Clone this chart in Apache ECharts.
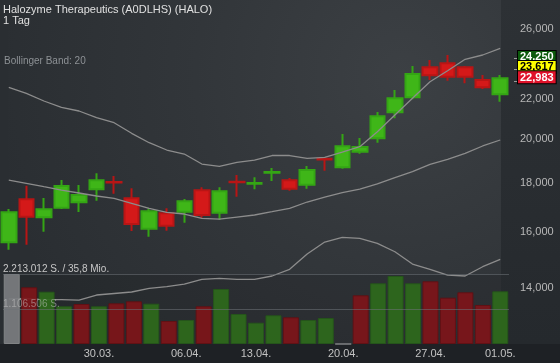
<!DOCTYPE html>
<html><head><meta charset="utf-8">
<script src="https://cdn.jsdelivr.net/npm/echarts@6/dist/echarts.min.js"></script>
<style>html,body{margin:0;padding:0;background:#262a2e}#c{width:560px;height:363px}</style>
</head><body><div id="c"></div>
<script>
const dates = ['23.03.','24.03.','25.03.','26.03.','27.03.','30.03.','31.03.','01.04.','02.04.','03.04.',
  '06.04.','07.04.','08.04.','09.04.','13.04.','14.04.','15.04.','16.04.','17.04.','20.04.',
  '21.04.','22.04.','23.04.','24.04.','27.04.','28.04.','29.04.','30.04.','01.05.'];
const tickDates = ['30.03.','06.04.','13.04.','20.04.','27.04.','01.05.'];

const open  = [15610,17303,16573,16960,17181,17724,18040,17345,16128,16733,16797,17681,16756,18050,17965,18445,18110,17919,19070,18681,19393,20025,21313,22092,23738,23966,23738,23028,22251];
const close = [16773,16596,16894,17864,17483,18110,18010,16310,16814,16242,17223,16666,17638,18020,17995,18475,17750,18561,19040,19645,19612,21110,22038,23361,23289,23210,23210,22628,23120];
const low   = [15335,15522,16011,16905,16785,17246,17537,16039,15820,16050,16360,16556,16478,17412,17724,18078,17664,17750,18531,18619,19301,19815,21008,21987,23028,22990,22846,22536,21861];
const high  = [16905,17876,17357,18122,17906,18416,18296,17766,16934,16934,17317,17807,17807,18340,18239,18651,18209,18741,19134,20233,20038,21328,22482,23813,24156,24448,23813,23305,23305];

const bbUpper  = [22628,22305,21898,21570,21379,21040,20788,20267,19816,19472,19286,18829,18727,18906,19011,19217,19217,19089,19134,19378,19627,20345,21174,22038,22932,23546,24196,24448,24843];
const bbMiddle = [18122,17980,17834,17693,17567,17441,17345,17139,16934,16773,16705,16533,16505,16585,16666,16797,16934,17192,17399,17587,17735,17951,18223,18486,18815,19042,19318,19661,19945];
const bbLower  = [13629,13645,13611,13611,13595,13759,13809,13859,13981,14035,14125,14287,14321,14287,14287,14400,14633,15179,15621,15798,15761,15571,15262,14818,14633,14433,14400,14724,14987];

const volume    = [2213012,1792540,1653500,1191900,1264600,1191900,1286700,1349900,1274100,727100,758700,1191900,1738800,948400,673400,907300,844100,758700,822000,0,1539600,1919000,2149800,1919000,1982100,1463700,1634400,1233000,1666100];
const volumeDir = [0,-1,1,1,-1,1,-1,-1,1,-1,1,-1,1,1,1,1,-1,1,1,0,-1,1,1,1,-1,-1,-1,-1,1];

const priceTicks = [14000,16000,18000,20000,22000,26000];
const quoteValues = [24250,23617,22983];
const quoteLabels = ['24,250','23,617','22,983'];
const volumeMax = 2213012;
const volumeTickLabels = ['', '1.106.506 S.', '2.213.012 S. / 35,8 Mio.'];
const priceMin = 12236, priceMax = 27890;

const L = v => Math.log10(v);
const FONT = '"Liberation Sans", Arial, sans-serif';
const fmtThousands = n => String(n).replace(/\B(?=(\d{3})+(?!\d))/g, ',');

const candleData = open.map((o, i) => [L(o), L(close[i]), L(low[i]), L(high[i])]);
const volFill = {'1': '#2e6a1b', '-1': '#7e1519', '0': '#7b7d80'};
const volEdge = {'1': '#25561a', '-1': '#631014', '0': '#86888a'};
const volData = volume.map((v, i) => ({
  value: v,
  itemStyle: {color: volFill[volumeDir[i]], borderColor: volEdge[volumeDir[i]]}
}));

const quoteStyles = [
  {backgroundColor: '#0c5a0c', color: '#ffffff'},
  {backgroundColor: '#ffff00', color: '#000000'},
  {backgroundColor: '#e0122a', color: '#ffffff'}
];
const quoteStackPad = [3, 5, 7];
const quoteAxes = quoteValues.map((q, i) => ({
  type: 'value', gridIndex: 0, position: 'right', offset: 5, min: L(priceMin), max: L(priceMax),
  axisLine: {show: false}, splitLine: {show: false},
  axisTick: {show: true, customValues: [L(q)], length: 4, lineStyle: {color: '#9a9a9a'}},
  axisLabel: {customValues: [L(q)], margin: 4, hideOverlap: false, padding: [0, 0, quoteStackPad[i], 0],
    formatter: () => '{b|' + quoteLabels[i] + '}',
    rich: {b: Object.assign({fontWeight: 'bold', fontSize: 11, lineHeight: 10, padding: [1, 2, 0, 2],
      borderColor: '#000', borderWidth: 1, fontFamily: FONT}, quoteStyles[i])}}
}));

const chart = echarts.init(document.getElementById('c'), null, {renderer: 'canvas'});
const bandStyle = {color: '#8c8c8c', width: 1.3};

chart.setOption({
  animation: false,
  backgroundColor: '#262a2e',
  textStyle: {fontFamily: FONT},
  graphic: {elements: [
    {type: 'rect', z: -100, silent: true, shape: {x: 0, y: 0, width: 8, height: 344}, style: {fill: '#2a2e32'}},
    {type: 'rect', z: -100, silent: true, shape: {x: 8, y: 0, width: 493, height: 344},
      style: {fill: new echarts.graphic.RadialGradient(0.8, 0.22, 1.2, [
        {offset: 0, color: '#3c4044'}, {offset: 0.5, color: '#32363a'}, {offset: 1, color: '#2a2e32'}])}},
    {type: 'rect', z: -99, silent: true, shape: {x: 8, y: 274, width: 493, height: 70}, style: {fill: 'rgba(0,0,0,0.10)'}},
    {type: 'rect', z: -100, silent: true, shape: {x: 501, y: 0, width: 59, height: 344},
      style: {fill: new echarts.graphic.LinearGradient(0, 0, 0, 1, [
        {offset: 0, color: '#2d3135'}, {offset: 1, color: '#25292d'}])}},
    {type: 'rect', z: -100, silent: true, shape: {x: 0, y: 344, width: 560, height: 19}, style: {fill: '#1e2125'}}
  ]},
  title: [
    {text: 'Halozyme Therapeutics (A0DLHS) (HALO)\n1 Tag', left: 3, top: 4, padding: 0,
      textStyle: {fontSize: 11, fontWeight: 'normal', color: '#e0e0e0', lineHeight: 11, fontFamily: FONT}},
    {text: 'Bollinger Band: 20', left: 4, top: 56, padding: 0,
      textStyle: {fontSize: 10, fontWeight: 'normal', color: '#8d9195', fontFamily: FONT}}
  ],
  grid: [
    {left: 0, right: 51, top: 0, bottom: 19},
    {left: 0, right: 51, top: 274, bottom: 19}
  ],
  xAxis: [
    {type: 'category', gridIndex: 0, data: dates, boundaryGap: true, show: false},
    {type: 'category', gridIndex: 1, data: dates, boundaryGap: true,
      axisLine: {show: false}, axisTick: {show: false}, splitLine: {show: false},
      axisLabel: {interval: (idx, val) => tickDates.includes(val), color: '#c2c2c2', fontSize: 11, margin: 4, fontFamily: FONT}}
  ],
  yAxis: [
    {type: 'value', gridIndex: 0, position: 'right', min: L(priceMin), max: L(priceMax),
      axisLine: {show: false}, axisTick: {show: false}, splitLine: {show: false},
      axisLabel: {customValues: priceTicks.map(L), formatter: v => fmtThousands(Math.round(Math.pow(10, v))),
        color: '#b8b8b8', fontSize: 11, margin: 11, fontFamily: FONT}},
    {type: 'value', gridIndex: 1, position: 'left', min: 0, max: volumeMax, interval: volumeMax / 2, z: 6,
      axisLine: {show: false}, axisTick: {show: false},
      splitLine: {show: true, showMinLine: false, lineStyle: {color: 'rgba(110,115,120,0.55)', width: 1}},
      axisLabel: {inside: true, margin: 0, verticalAlign: 'bottom', fontSize: 10, fontFamily: FONT,
        showMinLabel: false,
        formatter: v => {
          const k = Math.round(v / (volumeMax / 2));
          return k === 0 ? '' : '{' + (k === 2 ? 'top' : 'mid') + '|' + volumeTickLabels[k] + '}';
        },
        rich: {
          top: {color: '#c8c8c8', fontSize: 10, fontFamily: FONT},
          mid: {color: 'rgba(205,205,205,0.5)', fontSize: 10, fontFamily: FONT}
        }}}
  ].concat(quoteAxes),
  series: [
    {type: 'candlestick', xAxisIndex: 0, yAxisIndex: 0, data: candleData, barWidth: 15,
      itemStyle: {color: '#3fb618', color0: '#d41919', borderColor: '#34a514', borderColor0: '#b81515', borderWidth: 2}},
    {type: 'line', xAxisIndex: 0, yAxisIndex: 0, data: bbUpper.map(L), symbol: 'none', lineStyle: bandStyle, z: 3},
    {type: 'line', xAxisIndex: 0, yAxisIndex: 0, data: bbMiddle.map(L), symbol: 'none', lineStyle: bandStyle, z: 3},
    {type: 'line', xAxisIndex: 0, yAxisIndex: 0, data: bbLower.map(L), symbol: 'none', lineStyle: bandStyle, z: 3},
    {type: 'bar', xAxisIndex: 1, yAxisIndex: 1, data: volData, barWidth: 16, z: 4,
      itemStyle: {borderWidth: 1, opacity: 0.92}}
  ]
});
</script></body></html>
